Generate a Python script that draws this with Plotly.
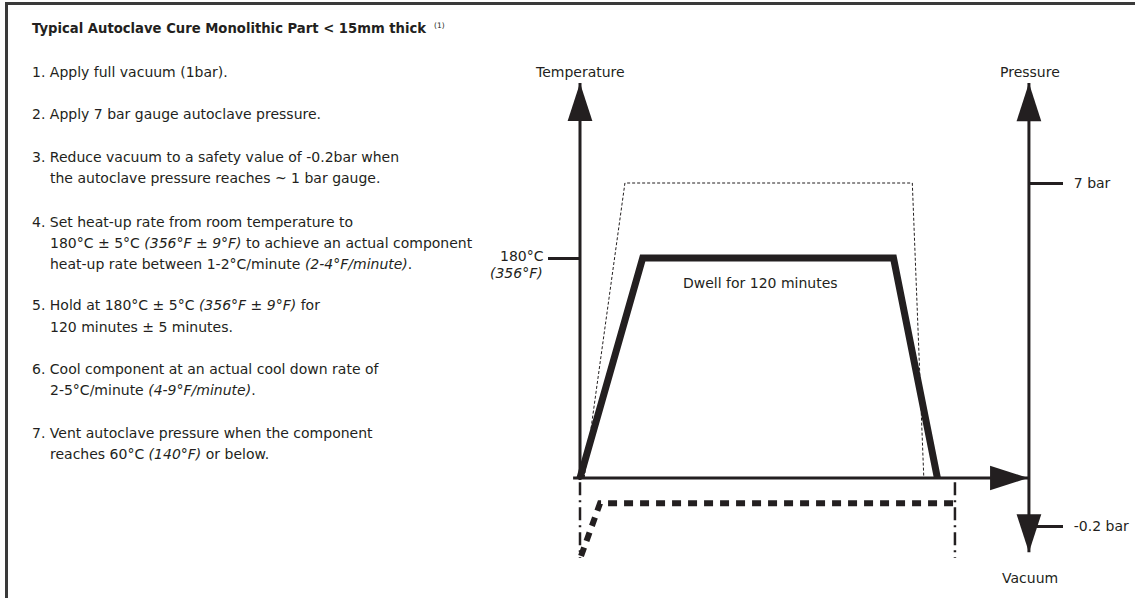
import plotly.graph_objects as go

# ---------------- data (schematic cure cycle) ----------------
T_ROOM = 20            # °C at the origin of the temperature axis
T_DWELL = 180          # °C
DWELL_MIN = 120        # minutes

# component temperature profile (thick line)
temp_time = [0, 30, 150, 171]            # minutes
temp_value = [20, 180, 180, 20]          # °C

# autoclave pressure profile (thin dashed line), bar gauge
pres_time = [2, 21.5, 159, 164.5]
pres_value = [0, 7, 7, 0]

# vacuum profile (thick dashed line), schematic position on the pressure axis
vac_time = [0.5, 9.6, 178.5]
vac_value = [-1.85, -0.6, -0.6]

# start / end markers of the vacuum (dash-dot verticals)
vac_mark_time = [0, 179.4]
vac_mark_range = [-0.1, -1.9]

# axes ticks
temp_tick_vals = [180]
pressure_tick_vals = [7, -1.14]
pressure_tick_text = ["7 bar", "-0.2 bar"]

# axis extents (arrows)
time_axis = [-3.3, 214.4]
temp_axis = [18.5, 307.3]
pres_axis_time = 214.8
pres_axis = [-1.76, 9.37]

steps = [
    ("1. Apply full vacuum (1bar).", 72, 0),
    ("2. Apply 7 bar gauge autoclave pressure.", 114, 0),
    ("3. Reduce vacuum to a safety value of -0.2bar when", 157, 0),
    ("the autoclave pressure reaches ~ 1 bar gauge.", 178, 1),
    ("4. Set heat-up rate from room temperature to", 222, 0),
    ("180°C ± 5°C <i>(356°F ± 9°F)</i> to achieve an actual component", 243, 1),
    ("heat-up rate between 1-2°C/minute <i>(2-4°F/minute)</i>.", 264, 1),
    ("5. Hold at 180°C ± 5°C <i>(356°F ± 9°F)</i> for", 305, 0),
    ("120 minutes ± 5 minutes.", 327, 1),
    ("6. Cool component at an actual cool down rate of", 369, 0),
    ("2-5°C/minute <i>(4-9°F/minute)</i>.", 390, 1),
    ("7. Vent autoclave pressure when the component", 433, 0),
    ("reaches 60°C <i>(140°F)</i> or below.", 454, 1),
]

# ---------------- layout geometry ----------------
W, H = 1135, 598
INK = "#231f20"
FONT = "DejaVu Sans, Verdana, sans-serif"

X0_PX, PX_PER_MIN = 580, 2.09
T0_PX, PX_PER_C = 478, 1.375
P0_PX, PX_PER_BAR = 478, 42.143

x_range = [-X0_PX / PX_PER_MIN, (W - X0_PX) / PX_PER_MIN]
t_range = [T_ROOM - (H - T0_PX) / PX_PER_C, T_ROOM + T0_PX / PX_PER_C]
p_range = [-(H - P0_PX) / PX_PER_BAR, P0_PX / PX_PER_BAR]


def px(x):
    return x / W


def py(y):
    return 1 - y / H


fig = go.Figure()


def line_trace(x, y, yaxis, **line):
    fig.add_trace(go.Scatter(x=x, y=y, mode="lines", line=dict(color=INK, **line),
                             yaxis=yaxis, hoverinfo="skip", showlegend=False))


# axes with arrow heads
line_trace([0, 0], temp_axis, "y", width=3)                                   # temperature
line_trace(time_axis, [T_ROOM, T_ROOM], "y", width=3)                         # time
line_trace([pres_axis_time, pres_axis_time], pres_axis, "y2", width=3)        # pressure / vacuum
fig.add_trace(go.Scatter(x=[0, time_axis[1]], y=[temp_axis[1], T_ROOM], mode="markers",
                         marker=dict(symbol="arrow", size=40, angle=[0, 90], color=INK,
                                     line=dict(width=0)),
                         yaxis="y", hoverinfo="skip", showlegend=False))
fig.add_trace(go.Scatter(x=[pres_axis_time, pres_axis_time], y=pres_axis, mode="markers",
                         marker=dict(symbol="arrow", size=40, angle=[180, 0], color=INK,
                                     line=dict(width=0)),
                         yaxis="y2", hoverinfo="skip", showlegend=False))

# component temperature
line_trace(temp_time, temp_value, "y", width=7)
# autoclave pressure
line_trace(pres_time, pres_value, "y2", width=1, dash="3px,2px")
# vacuum
line_trace(vac_time, vac_value, "y2", width=6, dash="9px,7px")
# vacuum start / end markers
for t in vac_mark_time:
    line_trace([t, t], vac_mark_range, "y2", width=2.5, dash="13px,5px,2px,5px")

annotations = []


def text(s, x, y, size=14, xanchor="left", yanchor="middle", bold=False):
    annotations.append(dict(
        text=("<b>%s</b>" % s) if bold else s, x=px(x), y=py(y), xref="paper", yref="paper",
        xanchor=xanchor, yanchor=yanchor, showarrow=False,
        font=dict(family=FONT, size=size, color=INK),
    ))


text("Typical Autoclave Cure Monolithic Part < 15mm thick", 30, 29, size=13.2, bold=True)
text("(1)", 432, 26, size=7.5)
for s, y, indent in steps:
    text(s, 48 if indent else 30, y, size=14)

text("Temperature", 580, 72, xanchor="center")
text("Pressure", 1030, 72, xanchor="center")
text("Vacuum", 1030, 578, xanchor="center")
text("%d°C" % T_DWELL, 546, 256, xanchor="right")
text("<i>(356°F)</i>", 545, 273, xanchor="right")
text("Dwell for %d minutes" % DWELL_MIN, 760, 283, xanchor="center")

fig.update_layout(
    width=W, height=H,
    margin=dict(l=0, r=0, t=0, b=0),
    paper_bgcolor="white", plot_bgcolor="white",
    showlegend=False,
    xaxis=dict(range=x_range, visible=False, fixedrange=True),
    yaxis=dict(range=t_range, anchor="free", position=X0_PX / W, side="left",
               showgrid=False, zeroline=False, showline=False,
               ticks="outside", ticklen=32, tickwidth=3, tickcolor=INK,
               tickvals=temp_tick_vals, showticklabels=False, fixedrange=True),
    yaxis2=dict(range=p_range, overlaying="y", anchor="free", position=1029 / W,
                side="right", showgrid=False, zeroline=False, showline=False,
                ticks="outside", ticklen=33, tickwidth=3, tickcolor=INK,
                tickvals=pressure_tick_vals, ticktext=pressure_tick_text,
                tickfont=dict(family=FONT, size=14, color=INK),
                ticklabelstandoff=8, fixedrange=True),
    annotations=annotations,
    shapes=[
        dict(type="line", xref="paper", yref="paper", x0=px(5), x1=1, y0=py(3.5), y1=py(3.5),
             line=dict(color="#3a3a3a", width=3)),
        dict(type="line", xref="paper", yref="paper", x0=px(6.5), x1=px(6.5), y0=py(2), y1=0,
             line=dict(color="#3a3a3a", width=3)),
    ],
)

fig.write_html("out.html", config={"displayModeBar": False},
               post_script="document.body.style.margin='0';document.body.style.overflow='hidden';")
